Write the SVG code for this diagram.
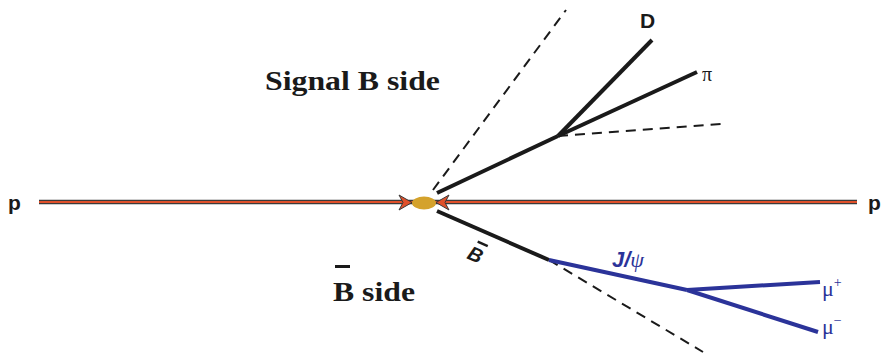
<svg xmlns="http://www.w3.org/2000/svg" width="885" height="356" viewBox="0 0 885 356">
<style>
.beamo{stroke:#3a3a3a;stroke-width:4.5;fill:none}
.beami{stroke:#e0502a;stroke-width:2;fill:none}
.trk{stroke:#1a1a1a;stroke-width:4;fill:none;stroke-linecap:butt}
.dash{stroke:#1a1a1a;stroke-width:2;fill:none;stroke-dasharray:10,7}
.blue{stroke:#2b3399;stroke-width:4;fill:none}
.serif{font-family:"Liberation Serif",serif;font-weight:bold;fill:#1a1a1a}
.sans{font-family:"Liberation Sans",sans-serif;font-weight:bold;fill:#1a1a1a}
.bl{fill:#2b3399}
</style>
<g id="connectors">
<line class="beamo" x1="39" y1="202" x2="857" y2="202"/>
<line class="beami" x1="39" y1="202" x2="857" y2="202"/>
<path d="M399,195 L412,202.5 L399,210 L403,202.5 Z" fill="#e0502a" stroke="#3a3a3a" stroke-width="1"/>
<path d="M449,195 L436,202.5 L449,210 L445,202.5 Z" fill="#e0502a" stroke="#3a3a3a" stroke-width="1"/>
<line class="dash" x1="433" y1="190" x2="566" y2="10"/>
<line class="trk" x1="437" y1="193" x2="558" y2="136"/>
<line class="trk" x1="558" y1="136" x2="652" y2="40"/>
<line class="trk" x1="558" y1="136" x2="697" y2="72"/>
<line class="dash" x1="558" y1="136" x2="722" y2="124"/>
<line class="trk" x1="437" y1="211" x2="549" y2="260"/>
<line class="dash" x1="549" y1="260" x2="703" y2="352"/>
<line class="blue" x1="549" y1="260" x2="687" y2="290"/>
<line class="blue" x1="687" y1="290" x2="820" y2="282"/>
<line class="blue" x1="687" y1="290" x2="818" y2="332"/>
</g>
<g id="vertex"><ellipse cx="424" cy="203" rx="12" ry="6.5" fill="#d4a22c"/></g>
<g id="labels">
<text class="sans" x="8" y="210" font-size="21">p</text>
<text class="sans" x="868" y="210" font-size="21">p</text>
<text class="serif" x="265" y="90" font-size="28" textLength="175" lengthAdjust="spacingAndGlyphs">Signal B side</text>
<text class="serif" x="333" y="301" font-size="28" textLength="82" lengthAdjust="spacingAndGlyphs">B side</text>
<rect x="335" y="265" width="15" height="3" fill="#1a1a1a"/>
<text class="sans" x="640" y="28" font-size="21">D</text>
<text x="702" y="81" font-size="20" font-family="Liberation Serif,serif" fill="#1a1a1a">π</text>
<g transform="translate(466,258) rotate(24)">
<text class="sans" x="0" y="0" font-size="20" font-style="italic">B</text>
<rect x="4" y="-21" width="11" height="2.5" fill="#1a1a1a"/>
</g>
<text x="612" y="267" font-size="22" font-family="Liberation Sans,sans-serif" font-weight="bold" font-style="italic" class="bl">J/<tspan font-family="Liberation Serif,serif" font-weight="normal">ψ</tspan></text>
<text x="822" y="296" font-size="22" font-family="Liberation Serif,serif" class="bl">μ<tspan font-size="14" dy="-9">+</tspan></text>
<text x="822" y="334" font-size="22" font-family="Liberation Serif,serif" class="bl">μ<tspan font-size="14" dy="-9">−</tspan></text>
</g>
</svg>
